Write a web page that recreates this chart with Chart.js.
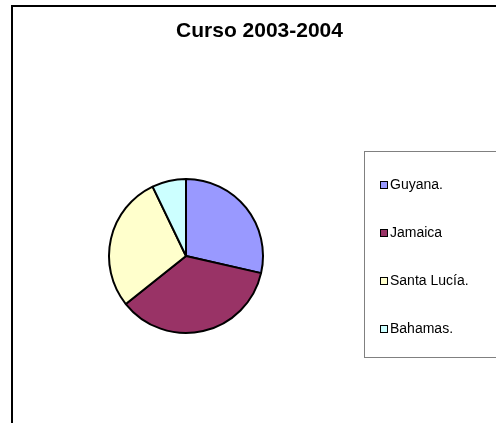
<!DOCTYPE html>
<html>
<head>
<meta charset="utf-8">
<script src="https://cdn.jsdelivr.net/npm/chart.js@4.4.1/dist/chart.umd.min.js"></script>
<style>
html,body{margin:0;padding:0;background:#fff;}
#wrap{width:496px;height:423px;position:relative;}
</style>
</head>
<body>
<div id="wrap"><canvas id="c" width="496" height="423"></canvas></div>
<script>
const chartTitle = "Curso 2003-2004";
const categories = ["Guyana.", "Jamaica", "Santa Lucía.", "Bahamas."];
const values = [4, 5, 4, 1];
const colors = ["#9999FF", "#993366", "#FFFFCC", "#CCFFFF"];

const framePlugin = {
  id: 'framePlugin',
  beforeDraw(chart) {
    const ctx = chart.ctx;
    ctx.save();
    ctx.fillStyle = '#fff';
    ctx.fillRect(0, 0, chart.width, chart.height);
    ctx.strokeStyle = '#000';
    ctx.lineWidth = 2;
    ctx.strokeRect(12, 6, 700, 700);
    ctx.restore();
  },
  afterDraw(chart) {
    const ctx = chart.ctx;
    ctx.save();
    // title
    ctx.fillStyle = '#000';
    ctx.font = 'bold 21px "Liberation Sans", Arial, sans-serif';
    ctx.textAlign = 'center';
    ctx.textBaseline = 'middle';
    ctx.fillText(chartTitle, 259.5, 31.5);
    // legend box
    ctx.strokeStyle = '#808080';
    ctx.lineWidth = 1;
    ctx.strokeRect(364.5, 151.5, 300, 206);
    // legend items
    ctx.font = '14px "Liberation Sans", Arial, sans-serif';
    ctx.textAlign = 'left';
    const labels = chart.data.labels;
    const bg = chart.data.datasets[0].backgroundColor;
    labels.forEach((lab, i) => {
      const cy = 185 + i * 48;
      ctx.fillStyle = bg[i];
      ctx.fillRect(380, cy - 4, 8, 8);
      ctx.strokeStyle = '#000';
      ctx.lineWidth = 1;
      ctx.strokeRect(380.5, cy - 3.5, 7, 7);
      ctx.fillStyle = '#000';
      ctx.fillText(lab, 390, cy + 0.5);
    });
    ctx.restore();
  }
};

new Chart(document.getElementById('c'), {
  type: 'pie',
  data: {
    labels: categories,
    datasets: [{
      data: values,
      backgroundColor: colors,
      borderColor: '#000',
      borderWidth: 2
    }]
  },
  options: {
    responsive: false,
    animation: false,
    devicePixelRatio: 1,
    layout: { padding: { left: 108, right: 232, top: 178, bottom: 89 } },
    plugins: {
      legend: { display: false },
      title: { display: false },
      tooltip: { enabled: false }
    }
  },
  plugins: [framePlugin]
});
</script>
</body>
</html>
